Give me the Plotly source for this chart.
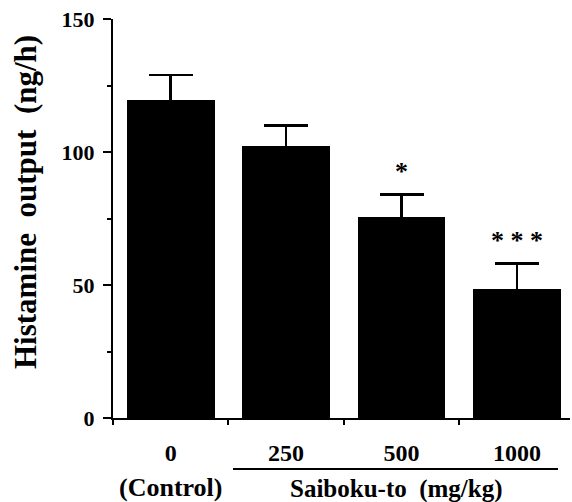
import plotly.graph_objects as go

categories = ["0", "250", "500", "1000"]
means = [119.5, 102.3, 75.5, 48.5]
sem = [9.5, 7.7, 8.5, 9.5]
significance = ["", "", "*", "* * *"]
y_ticks = [0, 50, 100, 150]

FONT = "Liberation Serif"
STAR_GAP = 3  # data units of space between error cap and the significance marks

fig = go.Figure()
fig.add_trace(go.Bar(
    x=categories, y=means,
    marker=dict(color="black", line=dict(width=0)),
    width=0.76,
    error_y=dict(type="data", array=sem, symmetric=True,
                 color="black", thickness=2.5, width=22),
    cliponaxis=False,
))

star_y = [m + s + STAR_GAP for m, s in zip(means, sem)]
fig.add_trace(go.Scatter(
    x=categories, y=star_y, mode="text", text=significance,
    textposition="top center", cliponaxis=False,
    textfont=dict(family=FONT, size=26, color="black", weight="bold"),
    hoverinfo="skip",
))

fig.add_annotation(xref="paper", yref="paper", x=(25 - 113) / 457, y=(418 - 202) / 399,
                   text="Histamine  output  (ng/h)", textangle=-90, showarrow=False,
                   xanchor="center", yanchor="middle",
                   font=dict(family=FONT, size=31, color="black", weight="bold"))

fig.add_annotation(x=categories[0], xref="x", yref="paper", y=(418 - 487) / 399,
                   text="(Control)", showarrow=False, xanchor="center", yanchor="middle",
                   font=dict(family=FONT, size=26, color="black", weight="bold"))
fig.add_annotation(xref="paper", yref="paper", x=(396 - 113) / 457, y=(418 - 489) / 399,
                   text="Saiboku-to  (mg/kg)", showarrow=False, xanchor="center", yanchor="middle",
                   font=dict(family=FONT, size=25, color="black", weight="bold"))
fig.add_shape(type="line", xref="paper", yref="paper",
              x0=(233 - 113) / 457, x1=(558 - 113) / 457,
              y0=(418 - 469) / 399, y1=(418 - 469) / 399,
              line=dict(color="black", width=2))

fig.update_layout(
    width=572, height=502,
    margin=dict(l=113, r=2, t=19, b=84, autoexpand=False),
    plot_bgcolor="white", paper_bgcolor="white",
    showlegend=False, bargap=0,
    xaxis=dict(type="category", range=[-0.5, 3.46], showline=True, linecolor="black", linewidth=1.5,
               ticks="outside", tickson="boundaries", ticklen=5, tickwidth=1.5, tickcolor="black",
               tickfont=dict(family=FONT, size=24, color="black", weight="bold"),
               ticklabelstandoff=12, showgrid=False, zeroline=False, automargin=False),
    yaxis=dict(range=[0, 150], tickvals=y_ticks, showline=True, linecolor="black", linewidth=2,
               ticks="outside", ticklen=8, tickwidth=2, tickcolor="black",
               minor=dict(tickvals=[25, 75, 125], ticks="outside", ticklen=4, tickwidth=1.5, tickcolor="black"),
               tickfont=dict(family=FONT, size=22, color="black", weight="bold"),
               ticklabelstandoff=4, showgrid=False, zeroline=False, automargin=False),
)

fig.write_html("out.html", config={"displayModeBar": False},
               post_script="document.body.style.margin='0';document.body.style.overflow='hidden';")
